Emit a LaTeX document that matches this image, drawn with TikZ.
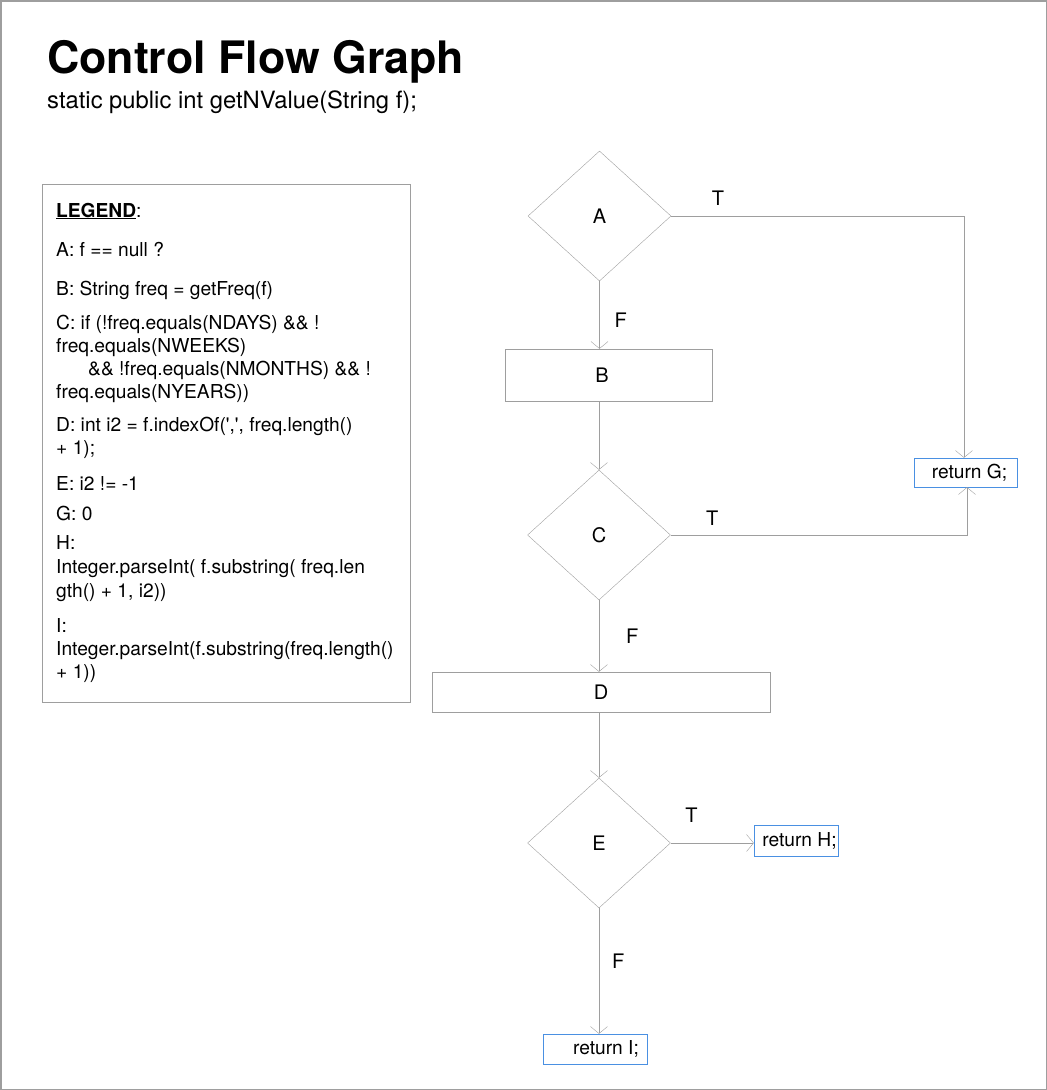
\documentclass[tikz,border=0pt]{standalone}
\usepackage{fontspec}
\setmainfont{TeX Gyre Heros}
\usepackage{tikz}
\usetikzlibrary{shapes.geometric,arrows.meta,calc,positioning}

\definecolor{cfgGray}{RGB}{158,158,158}
\definecolor{cfgBlue}{RGB}{74,144,226}

\begin{document}
\begin{tikzpicture}[x=1pt, y=-1pt,
        decision/.style={diamond, draw=cfgGray, minimum width=143pt, minimum height=130pt, inner sep=0pt, font=\fontsize{20}{24}\selectfont},
        stmt/.style={rectangle, draw=cfgGray, inner sep=0pt, font=\fontsize{20}{24}\selectfont},
        ret/.style={rectangle, draw=cfgBlue, inner sep=0pt, font=\fontsize{19.2}{23}\selectfont},
        flow/.style={draw=cfgGray, -{Straight Barb[length=7pt,width=17pt]}},
        branch/.style={inner sep=0pt, font=\fontsize{20}{24}\selectfont},
        legline/.style={anchor=base west, inner sep=0pt, font=\fontsize{19.2}{23}\selectfont}]
        \useasboundingbox (0,0) rectangle (1047,1090);
        \draw[cfgGray, line width=1.5pt] (0.75,0.75) rectangle (1046.25,1089.25);
        % Judul
        \node[anchor=base west, inner sep=0pt, font=\fontsize{44.7}{50}\selectfont\bfseries] (title) at (47,73) {Control Flow Graph};
        \node[anchor=base west, inner sep=0pt, font=\fontsize{23.8}{28}\selectfont] (signature) at (47,108) {static public int getNValue(String f);};
        % Legenda
        \node[draw=cfgGray, minimum width=368pt, minimum height=518pt, inner sep=0pt] (legend) at (226,443) {};
        \foreach \lx/\ly/\ltext [count=\i] in {
            56/217/{\underline{\textbf{LEGEND}}:},
            56/256/{A: f == null ?},
            56/295/{B: String freq = getFreq(f)},
            56/329/{C: if (!freq.equals(NDAYS) \&\& !},
            56/352/{freq.equals(NWEEKS)},
            88/375/{\&\& !freq.equals(NMONTHS) \&\& !},
            56/398/{freq.equals(NYEARS))},
            56/431/{D: int i2 = f.indexOf(\textquotesingle,\textquotesingle, freq.length()},
            56/454/{+ 1);},
            56/490/{E: i2 != -1},
            56/520/{G: 0},
            56/549/{H:},
            56/573/{Integer.parseInt( f.substring( freq.len},
            56/597/{gth() + 1, i2))},
            56/632/{I:},
            56/655/{Integer.parseInt(f.substring(freq.length()},
            56/678/{+ 1))}}
            \node[legline] (leg\i) at (\lx,\ly) {\ltext};
        % Simpul graf
        \node[decision] (A) at (599.5,216) {A};
        \node[stmt, minimum width=207pt, minimum height=52pt] (B) at (608.5,375) {B\hspace*{13pt}};
        \node[decision] (C) at (599,535) {C};
        \node[stmt, minimum width=338pt, minimum height=40pt] (D) at (601,692) {D};
        \node[decision] (E) at (599,843) {E};
        \node[ret, minimum width=103pt, minimum height=29pt] (retG) at (965.5,472.5) {\hspace*{8pt}return G;};
        \node[ret, minimum width=84pt, minimum height=31pt] (retH) at (796,840.5) {\hspace*{7pt}return H;};
        \node[ret, minimum width=104pt, minimum height=30pt] (retI) at (595,1049) {\hspace*{22pt}return I;};
        % Cabang benar
        \draw[flow] (A.east) -| node[branch, pos=0.08, above=10pt] (tA) {T} ([xshift=-1.5pt]retG.north);
        \draw[flow] (C.east) -| node[branch, pos=0.07, above=9pt] (tC) {T} ([xshift=1.5pt]retG.south);
        \draw[flow] (E.east) -- node[branch, pos=0.25, above=20pt] (tE) {T} (E.east -| retH.west);
        % Cabang salah
        \draw[flow] (A.south) -- node[branch, pos=0.57, right=15pt] (fA) {F} (A.south |- B.north);
        \draw[flow] (C.north |- B.south) -- (C.north);
        \draw[flow] (C.south) -- node[branch, pos=0.5, right=27pt] (fC) {F} (C.south |- D.north);
        \draw[flow] (E.north |- D.south) -- (E.north);
        \draw[flow] (E.south) -- node[branch, pos=0.42, right=13pt] (fE) {F} (E.south |- retI.north);
      \end{tikzpicture}
\end{document}
